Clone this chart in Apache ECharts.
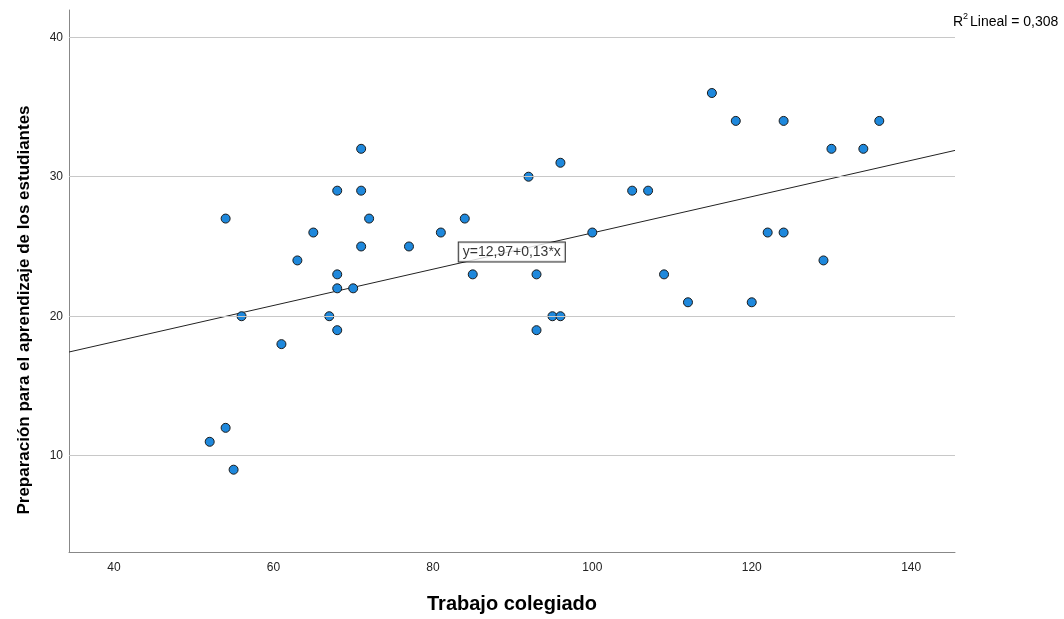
<!DOCTYPE html>
<html>
<head>
<meta charset="utf-8">
<style>
  html, body { margin: 0; padding: 0; background: #fff; }
  #chart { width: 1064px; height: 619px; }
</style>
<script src="https://cdn.jsdelivr.net/npm/echarts@6/dist/echarts.min.js"></script>
</head>
<body>
<div id="chart"></div>
<script>
// Trabajo colegiado (x) y Preparación (y)
const trabajo = [52, 54, 55, 54, 56, 61, 63, 65, 67, 68, 68, 68, 68, 70, 71, 71, 71, 72, 77, 81, 84, 85,
  92, 93, 93, 95, 96, 96, 100, 105, 107, 109, 112, 115, 118, 120, 122, 124, 124, 129, 130, 134, 136]
const preparacion = [11, 12, 9, 27, 20, 18, 24, 26, 20, 29, 23, 22, 19, 22, 32, 29, 25, 27, 25, 26, 27, 23,
  30, 23, 19, 20, 20, 31, 26, 29, 29, 23, 21, 36, 34, 21, 26, 34, 26, 24, 32, 32, 34]

const xTicks = [40, 60, 80, 100, 120, 140]
const yTicks = [10, 20, 30, 40]

// recta de ajuste
const intercept = 12.97
const slope = 0.13
const ecuacion = 'y=12,97+0,13*x'
const r2Texto = 'Lineal = 0,308'
const tituloY = 'Preparación para el aprendizaje de los estudiantes'

const xMin = 34.35
const xMax = 145.5
const yMin = 3.1
const yMax = 41.95

const puntos = trabajo.map((x, i) => [x, preparacion[i]])
const recta = [[xMin, intercept + slope * xMin], [xMax, intercept + slope * xMax]]

const chart = echarts.init(document.getElementById('chart'))
const font = 'Liberation Sans, Arial, sans-serif'

chart.setOption({
  animation: false,
  textStyle: { fontFamily: font },
  grid: {
    left: 69,
    right: 109,
    top: 10,
    bottom: 64
  },
  xAxis: {
    type: 'value',
    min: xMin,
    max: xMax,
    name: 'Trabajo colegiado',
    nameLocation: 'middle',
    nameGap: 42,
    nameTextStyle: { fontSize: 20, fontWeight: 'bold', color: '#000', fontFamily: font },
    axisLine: { onZero: false, lineStyle: { color: '#888', width: 1 } },
    axisTick: { show: false },
    splitLine: { show: false },
    axisLabel: {
      customValues: xTicks,
      color: '#222',
      fontSize: 12,
      margin: 10
    }
  },
  yAxis: {
    type: 'value',
    min: yMin,
    max: yMax,
    axisLine: { show: true, onZero: false, lineStyle: { color: '#888', width: 1 } },
    axisTick: { show: false },
    splitLine: { show: false },
    axisLabel: {
      customValues: yTicks,
      color: '#222',
      fontSize: 12,
      margin: 6
    }
  },
  graphic: [
    {
      type: 'text',
      x: 24,
      y: 310,
      rotation: Math.PI / 2,
      style: {
        text: tituloY,
        font: 'bold 17px ' + font,
        fill: '#000',
        align: 'center',
        verticalAlign: 'middle'
      }
    },
    // R² Lineal
    {
      type: 'text',
      left: 953,
      top: 15,
      style: { text: 'R', font: '14px ' + font, fill: '#000' }
    },
    {
      type: 'text',
      left: 963,
      top: 12,
      style: { text: '2', font: '9px ' + font, fill: '#000' }
    },
    {
      type: 'text',
      left: 970,
      top: 15,
      style: { text: r2Texto, font: '14px ' + font, fill: '#000' }
    }
  ],
  series: [
    {
      // líneas de referencia horizontales
      type: 'line',
      data: [],
      z: 1,
      markLine: {
        silent: true,
        symbol: 'none',
        label: { show: false },
        lineStyle: { color: '#c8c8c8', width: 1, type: 'solid' },
        data: yTicks.map(v => ({ yAxis: v }))
      }
    },
    {
      type: 'line',
      data: recta,
      symbol: 'none',
      z: 2,
      lineStyle: { color: '#222', width: 1 }
    },
    {
      type: 'scatter',
      data: puntos,
      symbolSize: 9,
      z: 3,
      itemStyle: {
        color: '#1e88dc',
        borderColor: '#1a1a1a',
        borderWidth: 1,
        opacity: 1
      }
    },
    {
      // etiqueta de la ecuación
      type: 'scatter',
      data: [[89.9, 24.6]],
      symbolSize: 0,
      z: 4,
      label: {
        show: true,
        position: 'inside',
        formatter: ecuacion,
        color: '#000',
        fontSize: 14,
        fontFamily: font,
        backgroundColor: '#fff',
        borderColor: '#000',
        borderWidth: 1,
        padding: [3, 4, 2, 4]
      }
    }
  ]
})
</script>
</body>
</html>
